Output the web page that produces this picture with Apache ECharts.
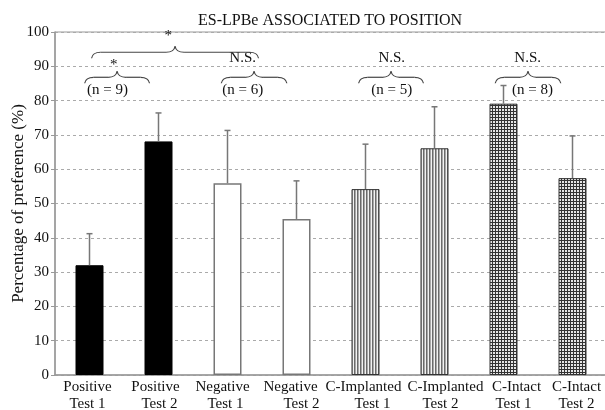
<!DOCTYPE html>
<html><head><meta charset="utf-8">
<script src="https://cdn.jsdelivr.net/npm/echarts@6/dist/echarts.min.js"></script>
<style>html,body{margin:0;padding:0;background:#fff}#c{width:605px;height:410px}</style>
</head><body><div id="c"></div>
<script>
// ---- data ----
const categories = ['Positive\nTest 1','Positive\nTest 2','Negative\nTest 1','Negative\nTest 2','C-Implanted\nTest 1','C-Implanted\nTest 2','C-Intact\nTest 1','C-Intact\nTest 2'];
const groups = ['positive','positive','negative','negative','implanted','implanted','intact','intact'];
const meanValues = [32.0, 68.1, 55.9, 45.5, 54.2, 66.1, 79.1, 57.4];
const errorUpper = [41.2, 76.4, 71.3, 56.6, 67.3, 78.2, 84.4, 69.7];
const yMin = 0, yMax = 100, yStep = 10;
// significance annotations: brace spans in category units
const braceLeft  = [-0.07, 1.91, 3.90, 5.88, 0.03];
const braceRight = [ 0.87, 2.86, 4.84, 6.83, 2.45];
const braceLevel = [ 86.8, 86.8, 86.8, 86.8, 94.1];
const braceTop   = ['*', 'N.S.', 'N.S.', 'N.S.', '*'];
const braceTopX  = [0.35, 2.22, 4.38, 6.35, 1.14];
const braceTopY  = [90.3, 92.3, 92.3, 92.3, 98.7];
const braceSub   = ['(n = 9)', '(n = 6)', '(n = 5)', '(n = 8)', ''];
const braceSubX  = [0.26, 2.22, 4.38, 6.42, 0];
const braceSubY  = [83.2, 83.2, 83.2, 83.2, 0];
// horizontal nudges (px) of the two label lines, as placed in the reference
const labelShift1 = [-2, -3, -5, -6, -2, 11, 13, 4];
const labelShift2 = [-2,  1, -2,  5,  7,  6, 10, 4];

const FONT = '"Liberation Serif", "DejaVu Serif", serif';

function makePattern(kind){
  const c = document.createElement('canvas');
  const ctx = c.getContext('2d');
  c.width = 3; c.height = 3;
  if (kind === 'stripes'){
    ctx.fillStyle = '#f2f2f2'; ctx.fillRect(0,0,3,3);
    ctx.fillStyle = '#6a6a6a'; ctx.fillRect(0,0,1,3);
    ctx.fillStyle = '#a8a8a8'; ctx.fillRect(1,0,1,3);
  } else {
    ctx.fillStyle = '#e6e6e6'; ctx.fillRect(0,0,3,3);
    ctx.fillStyle = '#333'; ctx.fillRect(0,0,3,1); ctx.fillRect(0,0,1,3);
  }
  return {image: c, repeat: 'repeat'};
}
const styles = {
  positive:  {color:'#000', borderColor:'#000', borderWidth:1},
  negative:  {color:'#fff', borderColor:'#777', borderWidth:1.5},
  implanted: {color: makePattern('stripes'), borderColor:'#333', borderWidth:1},
  intact:    {color: makePattern('hatch'), borderColor:'#333', borderWidth:1}
};

const rich = {};
function padFor(s){ return s >= 0 ? [0,0,0,2*s] : [0,-2*s,0,0]; }
categories.forEach((c,i)=>{
  rich['a'+i] = {fontFamily:FONT, fontSize:15, color:'#111', lineHeight:17, padding:padFor(labelShift1[i])};
  rich['b'+i] = {fontFamily:FONT, fontSize:15, color:'#111', lineHeight:17, padding:padFor(labelShift2[i])};
});

const chart = echarts.init(document.getElementById('c'), null, {renderer:'canvas'});
chart.setOption({
  animation:false,
  backgroundColor:'#fff',
  title:{text:'ES-LPBe ASSOCIATED TO POSITION', left:193, top:8,
    textStyle:{fontFamily:FONT, fontSize:16, fontWeight:'normal', color:'#111'}},
  grid:{left:55, top:32, width:552, height:343, show:true, borderColor:'#999', borderWidth:1,
    backgroundColor:'transparent', containLabel:false, outerBoundsMode:'none'},
  xAxis:{type:'category', data:categories,
    axisLine:{lineStyle:{color:'#999', width:1.5}}, axisTick:{show:false},
    axisLabel:{fontFamily:FONT, fontSize:15, color:'#111', lineHeight:17, margin:4, interval:0, hideOverlap:false,
      formatter:(v, i)=>{ const p = v.split('\n'); return '{a'+i+'|'+p[0]+'}\n{b'+i+'|'+p[1]+'}'; },
      rich: rich}},
  yAxis:{type:'value', min:yMin, max:yMax, interval:yStep,
    name:'Percentage of preference (%)', nameLocation:'middle', nameGap:28, nameRotate:90,
    nameMoveOverlap:false,
    nameTextStyle:{fontFamily:FONT, fontSize:17, color:'#111'},
    axisLine:{show:true, lineStyle:{color:'#999', width:1.5}},
    axisTick:{show:true, length:4, lineStyle:{color:'#999'}},
    axisLabel:{fontFamily:FONT, fontSize:15, color:'#111', margin:6},
    splitLine:{lineStyle:{color:'#aaa', type:[3,3], width:1}}},
  series:[
    {type:'bar', barWidth:28, z:2,
      data: meanValues.map((v,i)=>({value:v, itemStyle:styles[groups[i]]}))},
    {type:'custom', z:3,
      data: meanValues.map((v,i)=>[i, v, errorUpper[i]]),
      encode:{x:0, y:[1,2]},
      renderItem:(params, api)=>{
        const lo = api.coord([api.value(0), api.value(1)]);
        const hi = api.coord([api.value(0), api.value(2)]);
        const st = {stroke:'#777', lineWidth:1.5};
        return {type:'group', children:[
          {type:'line', shape:{x1:lo[0], y1:lo[1], x2:hi[0], y2:hi[1]}, style:st},
          {type:'line', shape:{x1:hi[0]-3, y1:hi[1], x2:hi[0]+3, y2:hi[1]}, style:st}
        ]};
      }},
    {type:'custom', z:4, silent:true,
      data: braceLevel.map((y,i)=>[0, y, i]),
      encode:{x:0, y:1},
      renderItem:(params, api)=>{
        const i = api.value(2);
        const base = api.coord([0, braceLevel[i]]);
        const bw = api.size([1,0])[0];
        const px = f => base[0] + f*bw;
        const py = v => api.coord([0, v])[1];
        const L = px(braceLeft[i]), R = px(braceRight[i]), M = (L+R)/2, y = base[1];
        const hx = 9, hy = 6;
        const st = {stroke:'#444', lineWidth:1.2, fill:null};
        const ch = [
          {type:'bezierCurve', shape:{x1:L, y1:y+hy, cpx1:L+1, cpy1:y, x2:L+hx, y2:y}, style:st},
          {type:'line', shape:{x1:L+hx, y1:y, x2:M-hx, y2:y}, style:st},
          {type:'bezierCurve', shape:{x1:M-hx, y1:y, cpx1:M-1, cpy1:y, x2:M, y2:y-hy}, style:st},
          {type:'bezierCurve', shape:{x1:M, y1:y-hy, cpx1:M+1, cpy1:y, x2:M+hx, y2:y}, style:st},
          {type:'line', shape:{x1:M+hx, y1:y, x2:R-hx, y2:y}, style:st},
          {type:'bezierCurve', shape:{x1:R-hx, y1:y, cpx1:R-1, cpy1:y, x2:R, y2:y+hy}, style:st},
          {type:'text', style:{text:braceTop[i], x:px(braceTopX[i]), y:py(braceTopY[i]), font:'15px '+FONT, fill:'#111', align:'center', verticalAlign:'middle'}}
        ];
        if (braceSub[i]) ch.push({type:'text', style:{text:braceSub[i], x:px(braceSubX[i]), y:py(braceSubY[i]), font:'15px '+FONT, fill:'#111', align:'center', verticalAlign:'middle'}});
        return {type:'group', children:ch};
      }}
  ]
});
</script></body></html>
